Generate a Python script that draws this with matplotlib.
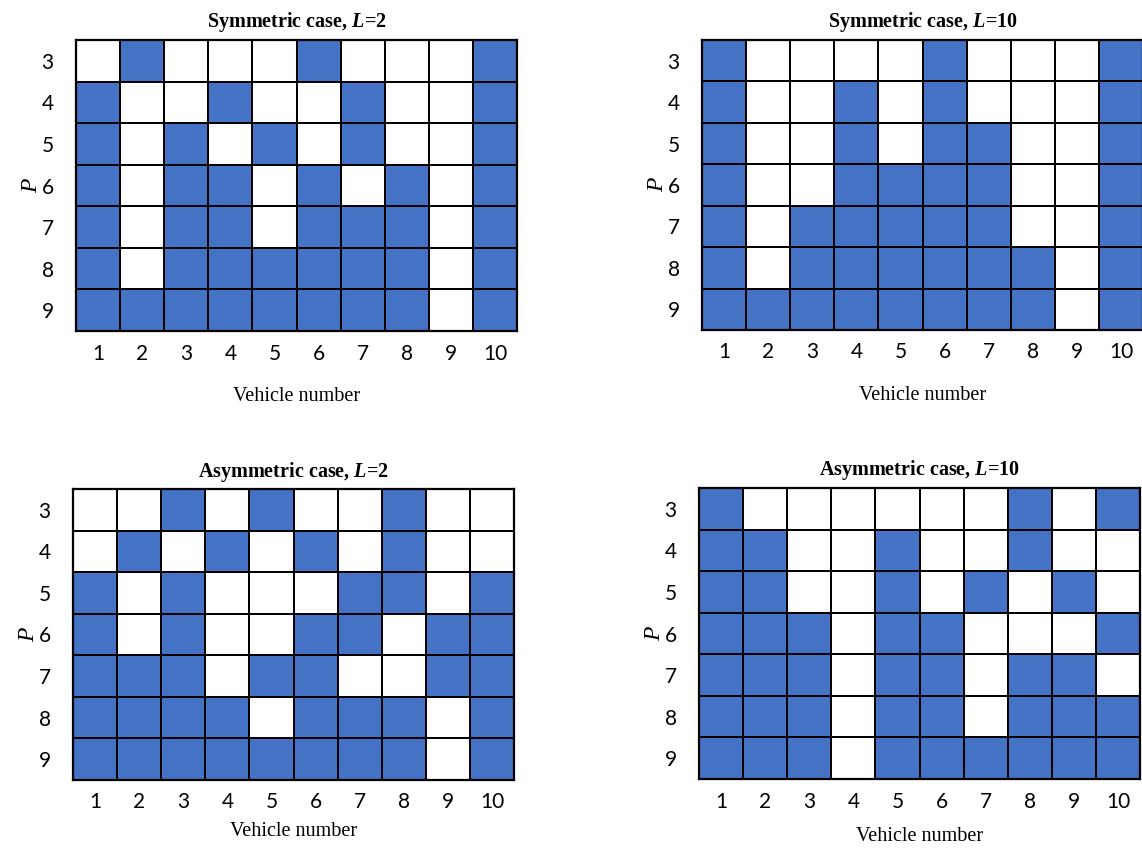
import numpy as np
import matplotlib
matplotlib.use("Agg")
import matplotlib.pyplot as plt
from matplotlib.colors import ListedColormap

# Platoon composition grids: rows are P = 3..9, columns are vehicles 1..10
# 1 = selected (blue), 0 = not selected (white)
vehicles = list(range(1, 11))
p_values = list(range(3, 10))

sym_l2 = [
    [0, 1, 0, 0, 0, 1, 0, 0, 0, 1],
    [1, 0, 0, 1, 0, 0, 1, 0, 0, 1],
    [1, 0, 1, 0, 1, 0, 1, 0, 0, 1],
    [1, 0, 1, 1, 0, 1, 0, 1, 0, 1],
    [1, 0, 1, 1, 0, 1, 1, 1, 0, 1],
    [1, 0, 1, 1, 1, 1, 1, 1, 0, 1],
    [1, 1, 1, 1, 1, 1, 1, 1, 0, 1],
]
sym_l10 = [
    [1, 0, 0, 0, 0, 1, 0, 0, 0, 1],
    [1, 0, 0, 1, 0, 1, 0, 0, 0, 1],
    [1, 0, 0, 1, 0, 1, 1, 0, 0, 1],
    [1, 0, 0, 1, 1, 1, 1, 0, 0, 1],
    [1, 0, 1, 1, 1, 1, 1, 0, 0, 1],
    [1, 0, 1, 1, 1, 1, 1, 1, 0, 1],
    [1, 1, 1, 1, 1, 1, 1, 1, 0, 1],
]
asym_l2 = [
    [0, 0, 1, 0, 1, 0, 0, 1, 0, 0],
    [0, 1, 0, 1, 0, 1, 0, 1, 0, 0],
    [1, 0, 1, 0, 0, 0, 1, 1, 0, 1],
    [1, 0, 1, 0, 0, 1, 1, 0, 1, 1],
    [1, 1, 1, 0, 1, 1, 0, 0, 1, 1],
    [1, 1, 1, 1, 0, 1, 1, 1, 0, 1],
    [1, 1, 1, 1, 1, 1, 1, 1, 0, 1],
]
asym_l10 = [
    [1, 0, 0, 0, 0, 0, 0, 1, 0, 1],
    [1, 1, 0, 0, 1, 0, 0, 1, 0, 0],
    [1, 1, 0, 0, 1, 0, 1, 0, 1, 0],
    [1, 1, 1, 0, 1, 1, 0, 0, 0, 1],
    [1, 1, 1, 0, 1, 1, 0, 1, 1, 0],
    [1, 1, 1, 0, 1, 1, 0, 1, 1, 1],
    [1, 1, 1, 0, 1, 1, 1, 1, 1, 1],
]

W, H = 1142, 848
fig = plt.figure(figsize=(W / 100, H / 100), dpi=100)

plt.rcParams["mathtext.fontset"] = "custom"
plt.rcParams["mathtext.it"] = "Liberation Serif:italic"
plt.rcParams["mathtext.bf"] = "Liberation Serif:bold"
plt.rcParams["mathtext.bfit"] = "Liberation Serif:bold:italic"
plt.rcParams["mathtext.rm"] = "Liberation Serif"

cmap = ListedColormap(["white", "#4472C4"])
serif = ["Liberation Serif", "DejaVu Serif"]
sans = ["Lato", "DejaVu Sans"]


def add_panel(rect_px, grid, title_case, L, label_pad):
    x0, y0, x1, y1 = rect_px
    ax = fig.add_axes([x0 / W, 1 - y1 / H, (x1 - x0) / W, (y1 - y0) / H])
    data = np.array(grid)
    xe = np.arange(len(vehicles) + 1) + 0.5
    ye = np.arange(len(p_values) + 1) + 2.5
    ax.pcolormesh(xe, ye, data, cmap=cmap, vmin=0, vmax=1,
                  edgecolors="black", linewidth=1.2)
    ax.set_xlim(xe[0], xe[-1])
    ax.set_ylim(ye[-1], ye[0])
    ax.set_xticks(vehicles)
    ax.set_yticks(p_values)
    ax.tick_params(length=0, labelsize=15, pad=9)
    ax.tick_params(axis="y", pad=16)
    for lab in ax.get_xticklabels() + ax.get_yticklabels():
        lab.set_family(sans)
    for sp in ax.spines.values():
        sp.set_linewidth(1.6)
    ax.set_title(title_case + ", $\\mathbfit{L}$=" + str(L),
                 fontsize=14.5, fontweight="bold", family=serif, pad=9)
    ax.set_xlabel("Vehicle number", fontsize=14.5, family=serif,
                  labelpad=label_pad)
    ax.set_ylabel("P", fontsize=17, family=serif, style="italic",
                  labelpad=0)
    return ax


add_panel((76, 40, 517, 331), sym_l2, "Symmetric case", 2, 17)
add_panel((702, 40, 1143, 330), sym_l10, "Symmetric case", 10, 17)
add_panel((73, 489, 514, 780), asym_l2, "Asymmetric case", 2, 7)
add_panel((699, 488, 1140, 779), asym_l10, "Asymmetric case", 10, 11)

fig.savefig("out.png", dpi=100)
